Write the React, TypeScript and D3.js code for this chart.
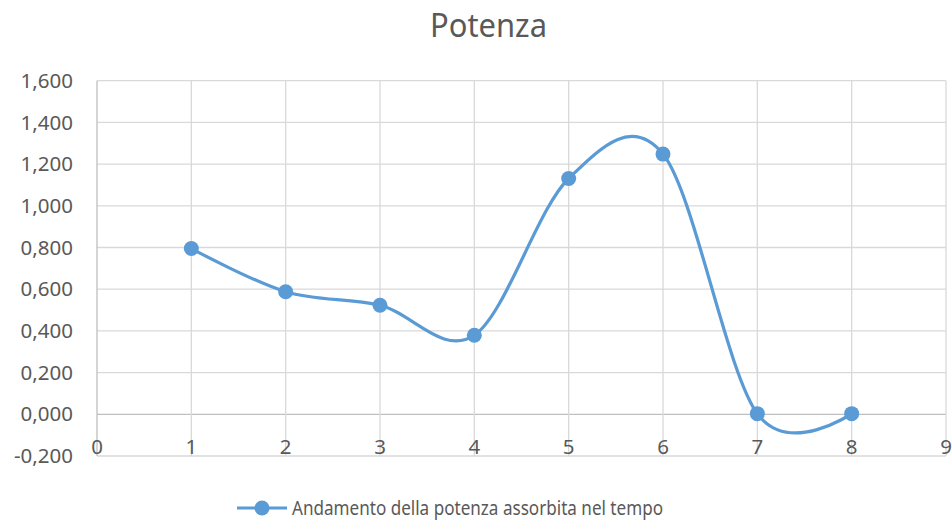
import React from "react";
import * as d3 from "d3";

const xValues = [1, 2, 3, 4, 5, 6, 7, 8];
const powerValues = [0.795, 0.588, 0.523, 0.379, 1.131, 1.248, 0.003, 0.003];
const xTicks = [0, 1, 2, 3, 4, 5, 6, 7, 8, 9];
const yTicks = [-0.2, 0, 0.2, 0.4, 0.6, 0.8, 1.0, 1.2, 1.4, 1.6];
const titleText = "Potenza";
const seriesName = "Andamento della potenza assorbita nel tempo";

const W = 952;
const H = 520;
const FONT = "'Noto Sans', 'Open Sans', sans-serif";
const TEXT = "#595959";
const BLUE = "#5B9BD5";

export default function App() {
  const x = d3.scaleLinear().domain([0, 9]).range([97, 946]);
  const y = d3.scaleLinear().domain([-0.2, 1.6]).range([456, 80.7]);
  const fmt = (v: number) => {
    const s = Math.abs(v).toFixed(3).replace(".", ",");
    return (v < -1e-9 ? "-" : "") + s;
  };
  const pts: [number, number][] = xValues.map((xv, i) => [x(xv), y(powerValues[i])]);
  const line = d3.line<[number, number]>().x((d) => d[0]).y((d) => d[1]).curve(d3.curveCardinal.tension(0));
  const pathD = line(pts) || "";

  return (
    <svg width={W} height={H} style={{ position: "absolute", left: 0, top: 0, background: "#fff" }}>
      <rect x={0} y={0} width={W} height={H} fill="#fff" />
      <text x={430} y={37} fontFamily={FONT} fontSize={32} fill={TEXT} textLength={117} lengthAdjust="spacingAndGlyphs">
        {titleText}
      </text>
      {yTicks.map((t) => (
        <line key={"h" + t} x1={x(0)} x2={x(9)} y1={y(t)} y2={y(t)} stroke={t === 0 ? "#bfbfbf" : "#d9d9d9"} strokeWidth={1.3} />
      ))}
      {xTicks.map((t) => (
        <line key={"v" + t} x1={x(t)} x2={x(t)} y1={y(1.6)} y2={y(-0.2)} stroke={t === 0 ? "#bfbfbf" : "#d9d9d9"} strokeWidth={1.3} />
      ))}
      {yTicks.map((t) => (
        <text key={"yl" + t} x={73} y={y(t)} dy="0.35em" textAnchor="end" fontFamily={FONT} fontSize={20.5} fill={TEXT}>
          {fmt(t)}
        </text>
      ))}
      {xTicks.map((t) => (
        <text key={"xl" + t} x={x(t)} y={447} dy="0.35em" textAnchor="middle" fontFamily={FONT} fontSize={20.5} fill={TEXT}>
          {t}
        </text>
      ))}
      <path d={pathD} fill="none" stroke={BLUE} strokeWidth={3.2} strokeLinecap="round" />
      {pts.map((p, i) => (
        <circle key={"m" + i} cx={p[0]} cy={p[1]} r={7.5} fill={BLUE} />
      ))}
      <line x1={237} x2={287} y1={508} y2={508} stroke={BLUE} strokeWidth={3.2} />
      <circle cx={262} cy={508} r={7.5} fill={BLUE} />
      <text x={292} y={508} dy="0.35em" fontFamily={FONT} fontSize={20} fill={TEXT} textLength={371} lengthAdjust="spacingAndGlyphs">
        {seriesName}
      </text>
    </svg>
  );
}
